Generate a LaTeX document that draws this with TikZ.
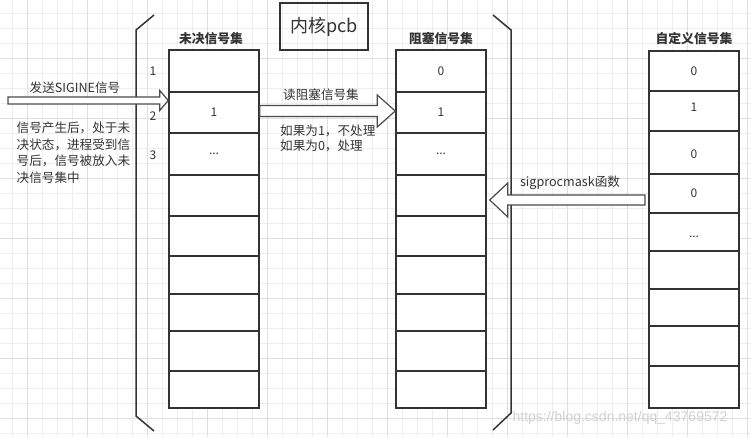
\documentclass[tikz,border=0pt]{standalone}
\usepackage{fontspec}
\setmainfont{Noto Sans CJK SC}
\newfontfamily\wmfont{Liberation Sans}
\usepackage{xcolor}
\usetikzlibrary{calc,positioning}

\definecolor{linegray}{HTML}{333333}
\definecolor{arrowgray}{HTML}{4A4A4A}
\definecolor{gridminor}{HTML}{EEEEEE}
\definecolor{gridmajor}{HTML}{DEDEDE}

\tikzset{
  cell/.style={draw=linegray, line width=1.5pt, fill=white, minimum width=90pt, inner sep=0pt},
  val/.style={text=linegray, font=\fontsize{12}{14}\selectfont, inner sep=0pt},
  header/.style={text=linegray, font=\fontsize{12.8}{15}\selectfont\bfseries, inner sep=0pt},
  note/.style={text=linegray, font=\fontsize{12.6}{15}\selectfont, inner sep=0pt},
  bracket/.style={draw=linegray, line width=1.5pt},
  hollow/.style n args={3}{draw=arrowgray, fill=white, line width=1.2pt, line join=miter,
    to path={let \p1=(\tikztostart), \p2=(\tikztotarget), \n1={sign(\x2-\x1)} in
      (\x1,\y1+#1) -- (\x2-\n1*#3,\y1+#1) -- (\x2-\n1*#3,\y1+#2) -- (\x2,\y2)
      -- (\x2-\n1*#3,\y1-#2) -- (\x2-\n1*#3,\y1-#1) -- (\x1,\y1-#1) -- cycle}}
}

\begin{document}
\begin{tikzpicture}[x=1pt,y=-1pt]
\useasboundingbox (0,0) rectangle (751,437);
\fill[white] (0,0) rectangle (751,437);

% background grid
\foreach \k in {0,...,49}
    \draw[gridminor, line width=0.8pt] ({12.5+15*\k},0) -- ({12.5+15*\k},437);
\foreach \k in {0,...,28}
    \draw[gridminor, line width=0.8pt] (0,{13+15*\k}) -- (751,{13+15*\k});
\foreach \k in {0,...,12}
    \draw[gridmajor, line width=0.8pt] ({27.5+60*\k},0) -- ({27.5+60*\k},437);
\foreach \k in {0,...,6}
    \draw[gridmajor, line width=0.8pt] (0,{58+60*\k}) -- (751,{58+60*\k});

% kernel brackets
\draw[bracket] (154,15) -- (136,30) -- (136,416) -- (154,431);
\draw[bracket] (493,15) -- (511,30) -- (511,413) -- (493,430);

% title
\node[draw=linegray, line width=1.5pt, minimum width=88pt, minimum height=47pt,
    text=linegray, font=\fontsize{18}{20}\selectfont] (pcb) at (324,26.5) {内核pcb};

% three signal sets
\foreach \i/\t/\b in {1/50/92, 2/92/133, 3/133/175, 4/175/216, 5/216/256,
                      6/256/294, 7/294/331, 8/331/371, 9/371/408} {
    \node[cell, minimum height={(\b-\t)*1pt}] (pend\i) at (214,{(\t+\b)/2}) {};
    \node[cell, minimum height={(\b-\t)*1pt}] (block\i) at (441,{(\t+\b)/2}) {};
}
\foreach \i/\t/\b in {1/51/91, 2/91/131, 3/131/174, 4/174/213, 5/213/251,
                      6/251/289, 7/289/326, 8/326/366, 9/366/408}
    \node[cell, minimum height={(\b-\t)*1pt}] (user\i) at (694,{(\t+\b)/2}) {};

\node[header] (pendtitle) at (211,39) {未决信号集};
\node[header] (blocktitle) at (441,39) {阻塞信号集};
\node[header] (usertitle) at (694,39) {自定义信号集};

% values
\node[val] (pendv2) at (pend2) {1};
\node[val] (pendv3) at (pend3) {...};
\node[val] (blockv1) at (block1) {0};
\node[val] (blockv2) at (block2) {1};
\node[val] (blockv3) at (block3) {...};
\node[val] (userv1) at (user1) {0};
\node[val] (userv2) at ($(user2)+(0,-4)$) {1};
\node[val] (userv3) at ($(user3)+(0,1.5)$) {0};
\node[val] (userv4) at (user4) {0};
\node[val] (userv5) at ($(user5)+(0,5)$) {...};

% signal numbers
\node[val] (num1) at (153,71) {1};
\node[val] (num2) at (153,116) {2};
\node[val] (num3) at (153,155) {3};

% arrows
\coordinate (send) at (8,100.5);
\draw[hollow={3.5}{10}{8.5}] (send) to (send -| pend2.west);
\coordinate (read) at ($(pend2.east)+(0,-1.5)$);
\draw[hollow={5.5}{16}{18}] (read) to (read -| block2.west);
\coordinate (mask) at (645,200);
\draw[hollow={5}{17}{18}] (mask) to ($(mask -| block5.east)+(3,0)$);

% labels
\node[note] (sendlabel) at (75,88) {发送SIGINE信号};
\node[note, anchor=north west, align=left, font=\fontsize{12.6}{16.7}\selectfont]
    (pendnote) at (16.5,121.5) {信号产生后，处于未\\决状态，进程受到信\\号后，信号被放入未\\决信号集中};
\node[note] (readlabel) at (321,95) {读阻塞信号集};
\node[note, anchor=north west, align=left, font=\fontsize{12.6}{15}\selectfont]
    (readnote) at (280,125) {如果为1，不处理\\如果为0，处理};
\node[note] (masklabel) at (570,183) {sigprocmask函数};

% watermark
\node[text=black!18, font=\wmfont\fontsize{14}{16}\selectfont] (mark) at (620,418)
    {https://blog.csdn.net/qq\_43769572};
\end{tikzpicture}
\end{document}
